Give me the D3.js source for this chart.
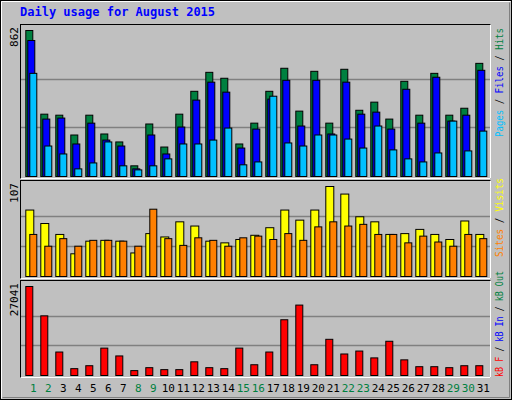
<!DOCTYPE html>
<html><head><meta charset="utf-8">
<script src="https://cdn.jsdelivr.net/npm/d3@7"></script>
<style>body{margin:0;background:#c0c0c0}text{font-family:"DejaVu Sans Mono",monospace}</style>
</head><body><svg id="c" width="512" height="400"></svg>
<script>
var days = d3.range(1, 32);
var weekend = [1, 2, 8, 9, 15, 16, 22, 23, 29, 30];
var hits  = [862,368,362,245,362,251,204,63,310,174,368,503,615,580,192,315,503,639,386,621,315,633,391,439,339,562,362,609,362,403,668];
var files = [803,339,345,192,315,215,180,45,245,133,292,451,557,498,168,280,457,568,298,568,251,557,368,380,280,515,315,586,327,362,627];
var pages = [609,180,133,45,80,204,63,39,63,104,192,192,215,286,69,86,474,198,180,245,245,221,168,298,157,104,86,139,327,151,268];
var visits = [79,63,50,27,42,43,42,28,51,47,65,60,42,40,44,49,58,79,67,79,107,98,71,65,50,51,56,50,44,66,50];
var sites  = [50,36,45,36,43,43,42,36,80,45,37,46,43,36,46,48,44,51,43,59,65,60,62,50,50,40,48,41,36,50,45];
var kbytes = [27041,18126,7132,2080,2972,8320,5943,1486,2377,1783,1783,4160,2377,2080,8320,3269,7132,16938,21395,3269,10995,6537,7429,5349,10400,4754,2674,2674,2377,2972,2972];

var svg = d3.select('#c');
// outer frame
svg.append('rect').attr('x',0.5).attr('y',0.5).attr('width',511).attr('height',399).attr('fill','#c0c0c0').attr('stroke','black');
svg.append('path').attr('d','M1.5,398.5V1.5H510.5').attr('fill','none').attr('stroke','white');
svg.append('path').attr('d','M2.5,397.5H509.5V2.5').attr('fill','none').attr('stroke','#808080');

svg.append('text').text('Daily usage for August 2015').attr('x',20).attr('y',16)
   .attr('fill','#0000ff').style('font-size','12px').style('font-weight','bold');

var x = d3.scaleBand().domain(days).range([25.3, 490.3]);

function panel(top, bottom, max, label) {
    svg.append('rect').attr('x',20.5).attr('y',top+0.5).attr('width',470).attr('height',bottom-top)
       .attr('fill','#c0c0c0').attr('stroke','black');
    svg.append('path').attr('d','M20.5,'+(bottom+0.5)+'H490.5V'+(top+0.5)).attr('fill','none').attr('stroke','white');
    var y = d3.scaleLinear().domain([0, max]).range([bottom-2, top+6]);
    [1/3, 2/3].forEach(f => {
        svg.append('line').attr('x1',21).attr('x2',490).attr('y1',Math.round(y(max*f))+0.5).attr('y2',Math.round(y(max*f))+0.5)
           .attr('stroke','#808080').attr('stroke-width',1.5);
    });
    svg.append('text').text(label).attr('transform','translate(18,'+(top+3)+') rotate(-90)')
       .attr('text-anchor','end').style('font-size','11px').attr('fill','black');
    return y;
}

function bars(data, y, off, w, color) {
    svg.append('g').selectAll('rect').data(data).enter().append('rect')
       .attr('x', (d, i) => x(days[i]) + off + 0.5)
       .attr('y', d => y(d) + 0.5)
       .attr('width', w)
       .attr('height', d => y(0) - y(d))
       .attr('fill', color).attr('stroke','black');
}

var y1 = panel(24, 178, 862, '862');
bars(hits, y1, 0, 7, '#008040');
bars(files, y1, 2, 7, '#0000ff');
bars(pages, y1, 4, 7, '#00c0ff');

var y2 = panel(180, 278, 107, '107');
bars(visits, y2, 0, 8, '#ffff00');
bars(sites, y2, 4, 7, '#ff8000');

var y3 = panel(280, 377, 27041, '27041');
bars(kbytes, y3, 0, 7, '#ff0000');

// day labels
svg.append('g').selectAll('text').data(days).enter().append('text')
   .text(d => d).attr('x', d => x(d) + 8).attr('y', 392).attr('text-anchor','middle')
   .style('font-size','11px').attr('fill', d => weekend.includes(d) ? '#008040' : 'black');

// right-side legends
function legend(yStart, len, parts) {
    var t = svg.append('text').attr('transform','translate(503,'+yStart+') rotate(-90)')
       .style('font-size','10px').attr('textLength', len).attr('lengthAdjust','spacingAndGlyphs');
    parts.forEach(p => t.append('tspan').text(p[0]).attr('fill', p[1]));
}
legend(137, 109, [['Pages','#00c0ff'],[' / ','black'],['Files','#0000ff'],[' / ','black'],['Hits','#008040']]);
legend(257, 79, [['Sites','#ff8000'],[' / ','black'],['Visits','#ffff00']]);
legend(377, 106, [['kB F','#ff0000'],[' / ','black'],['kB In','#0000ff'],[' / ','black'],['kB Out','#008040']]);
</script></body></html>
